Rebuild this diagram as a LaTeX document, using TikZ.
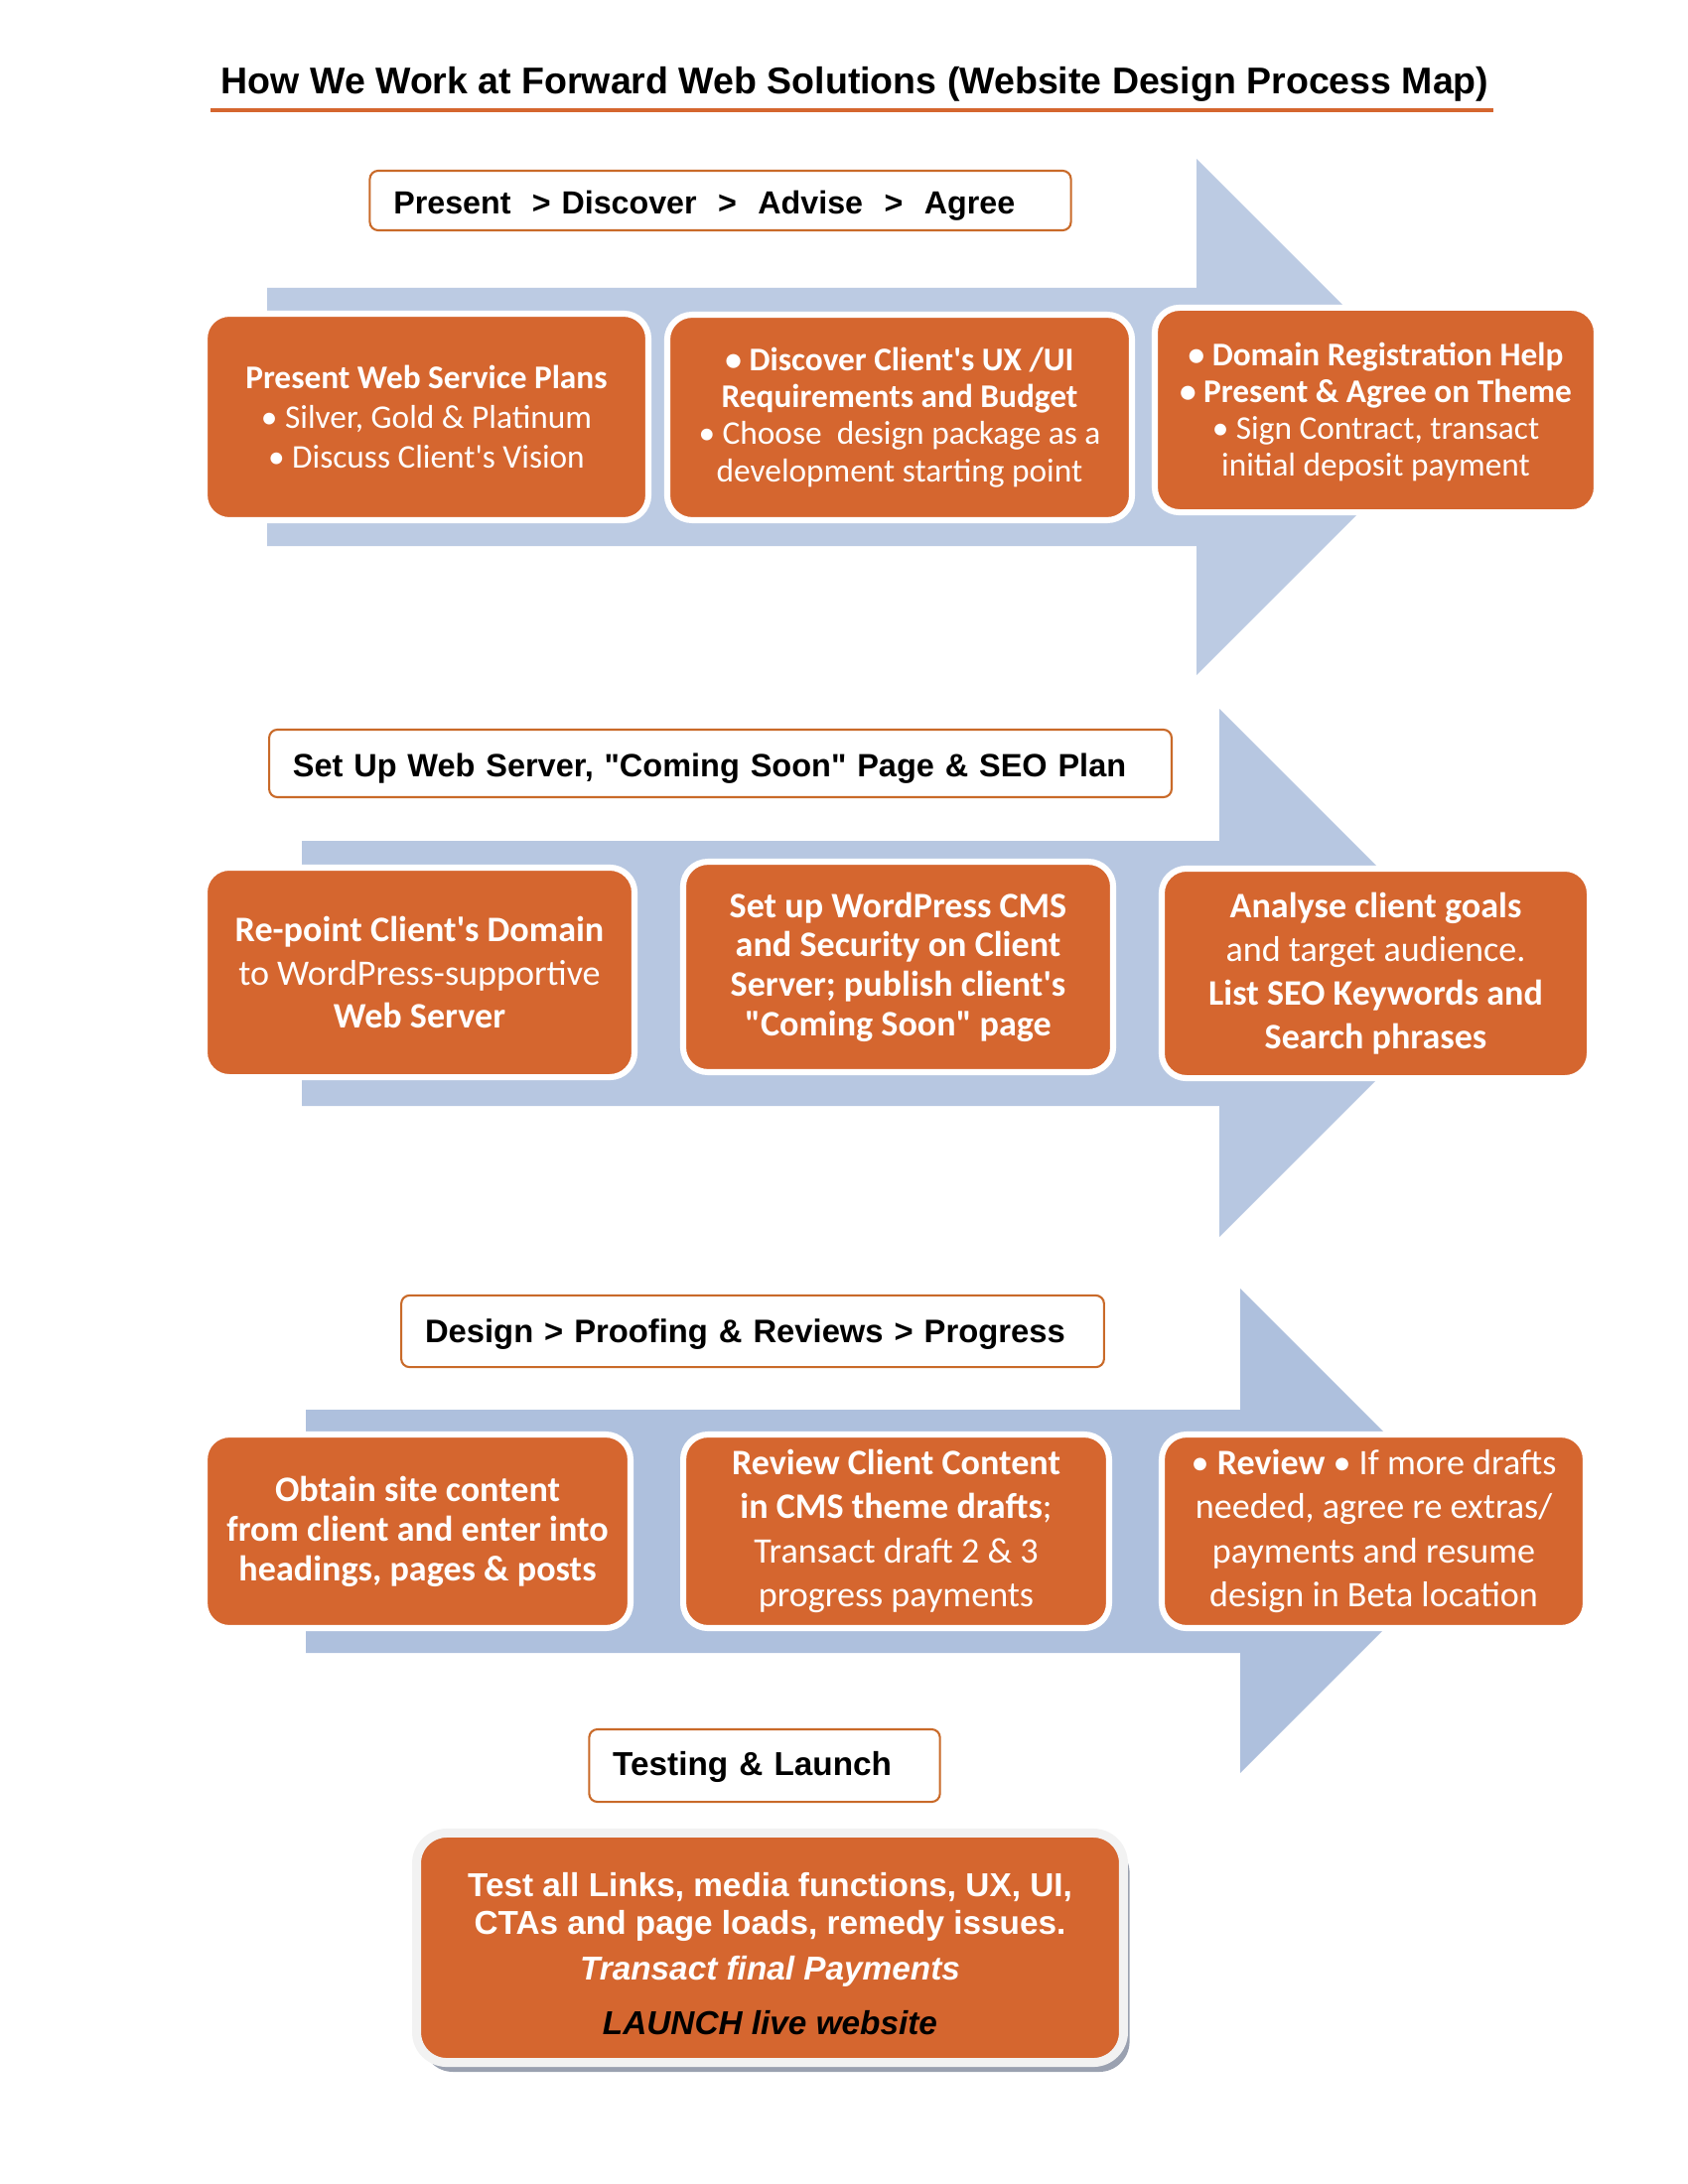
\documentclass[tikz,border=0pt]{standalone}
\usepackage{fontspec}
\setmainfont{Liberation Sans}[Ligatures=TeXOff]
\newfontfamily\calibri{Carlito}
\usepackage{xcolor}
\usetikzlibrary{shadows}
\definecolor{webor}{HTML}{D5662F}
\definecolor{hdror}{HTML}{C96A29}
\definecolor{arrA}{HTML}{BCCBE3}
\definecolor{arrB}{HTML}{B7C7E1}
\definecolor{arrC}{HTML}{AEC0DD}
\definecolor{rimgrey}{HTML}{F2F2F2}
\definecolor{shadegrey}{HTML}{9AA1B0}

\begin{document}
\begin{tikzpicture}[x=0.36pt, y=-0.36pt,
	stage/.style={draw=hdror, line width=0.75pt, rounded corners=3pt, fill=white, inner xsep=8.6pt, align=left, text height=10pt, text depth=0pt, font=\bfseries\fontsize{12}{14}\selectfont},
	task/.style={draw=white, line width=2.2pt, fill=webor, rounded corners=9pt, text=white, align=center, inner sep=2pt, font=\calibri\fontsize{12}{14}\selectfont}]
	\useasboundingbox (0,0) rectangle (1700,2200);
	% title
	\node[anchor=base, font=\bfseries\fontsize{13.5}{16}\selectfont] (title) at (861,95) {How We Work at Forward Web Solutions (Website Design Process Map)};
	\coordinate (ulA) at (212,111);
	\coordinate (ulB) at (1504,111);
	\draw[webor, line width=1.26pt] (ulA) -- (ulB);
	% the three big arrows
	\fill[arrA] (269,290) -- (1205,290) -- (1205,160) -- (1465,420) -- (1205,680) -- (1205,550) -- (269,550) -- cycle;
	\fill[arrB] (304,847) -- (1228,847) -- (1228,714) -- (1494,980) -- (1228,1246) -- (1228,1114) -- (304,1114) -- cycle;
	\fill[arrC] (308,1420) -- (1249,1420) -- (1249,1298) -- (1493,1542) -- (1249,1786) -- (1249,1665) -- (308,1665) -- cycle;
	% stage 1
	\node[stage, text width=237pt, minimum height=21.6pt, font=\bfseries\fontsize{11.6}{14}\selectfont] (hdrone) at (725.5,202) {Present\ \ > Discover\ \ >\ \ Advise\ \ >\ \ Agree};
	\node[task, minimum width=160.9pt, minimum height=74.9pt, font=\calibri\fontsize{12}{14.5}\selectfont] (plans) at (429.5,420) {\textbf{Present Web Service Plans}\\• Silver, Gold \& Platinum\\• Discuss Client's Vision};
	\node[task, minimum width=168.5pt, minimum height=74.5pt, font=\calibri\fontsize{12}{13.4}\selectfont] (discover) at (906,420.5) {\textbf{• Discover Client's UX /UI}\\\textbf{Requirements and Budget}\\• Choose \ design package as a\\development starting point};
	\node[task, minimum width=160.2pt, minimum height=74.2pt, font=\calibri\fontsize{12}{13.3}\selectfont] (agree) at (1385.5,413) {\rule{0pt}{10pt}\textbf{• Domain Registration Help}\\\textbf{• Present \& Agree on Theme}\\• Sign Contract, transact\\initial deposit payment};
	% stage 2
	\node[stage, text width=310pt, minimum height=24.5pt, text height=9.5pt, font=\bfseries\fontsize{11.7}{14}\selectfont] (hdrtwo) at (725.5,769) {Set Up Web Server, "Coming Soon" Page \& SEO Plan};
	\node[task, minimum width=155.9pt, minimum height=76pt, font=\calibri\fontsize{13}{15.8}\selectfont] (repoint) at (422.5,979.5) {\textbf{Re-point Client's Domain}\\to WordPress-supportive\\\textbf{Web Server}};
	\node[task, minimum width=155.9pt, minimum height=76.3pt, font=\calibri\bfseries\fontsize{13}{14.3}\selectfont] (cms) at (904.5,974) {Set up WordPress CMS\\and Security on Client\\Server; publish client's\\"Coming Soon" page};
	\node[task, minimum width=155.2pt, minimum height=76pt, font=\calibri\fontsize{13}{15.8}\selectfont] (seo) at (1385.5,980.5) {\textbf{Analyse client goals}\\and target audience.\\\textbf{List SEO Keywords and}\\\textbf{Search phrases}};
	% stage 3
	\node[stage, text width=237.6pt, minimum height=26pt, text height=8pt, font=\bfseries\fontsize{11.8}{14}\selectfont] (hdrthree) at (758,1341) {Design > Proofing \& Reviews > Progress};
	\node[task, minimum width=154.4pt, minimum height=70.2pt, font=\calibri\bfseries\fontsize{13}{14.4}\selectfont] (content) at (420.5,1542.5) {Obtain site content\\from client and enter into\\headings, pages \& posts};
	\node[task, minimum width=154.4pt, minimum height=70.2pt, font=\calibri\fontsize{13}{16}\selectfont] (review) at (902.5,1542.5) {\textbf{Review Client Content}\\\textbf{in CMS theme drafts};\\Transact draft 2 \& 3\\progress payments};
	\node[task, minimum width=153.7pt, minimum height=70.2pt, font=\calibri\fontsize{13}{16}\selectfont] (drafts) at (1383.5,1542.5) {• \textbf{Review} • If more drafts\\needed, agree re extras/\\payments and resume\\design in Beta location};
	% stage 4
	\node[stage, text width=110pt, minimum height=26.3pt, text height=7pt] (hdrfour) at (770,1778.5) {Testing \& Launch};
	\node[draw=rimgrey, line width=3.24pt, fill=webor, rounded corners=11pt, text=white, align=center,
		drop shadow={shadow xshift=2.2pt, shadow yshift=-3.4pt, fill=shadegrey, opacity=1},
		minimum width=256.3pt, minimum height=83.2pt, font=\bfseries\fontsize{12}{13.7}\selectfont] (launch) at (775.5,1962)
		{\rule{0pt}{12.8pt}Test all Links, media functions, UX, UI,\\CTAs and page loads, remedy issues.\\[2.9pt]\itshape Transact final Payments\\[6.1pt]\color{black}\itshape LAUNCH live website};
\end{tikzpicture}
\end{document}
